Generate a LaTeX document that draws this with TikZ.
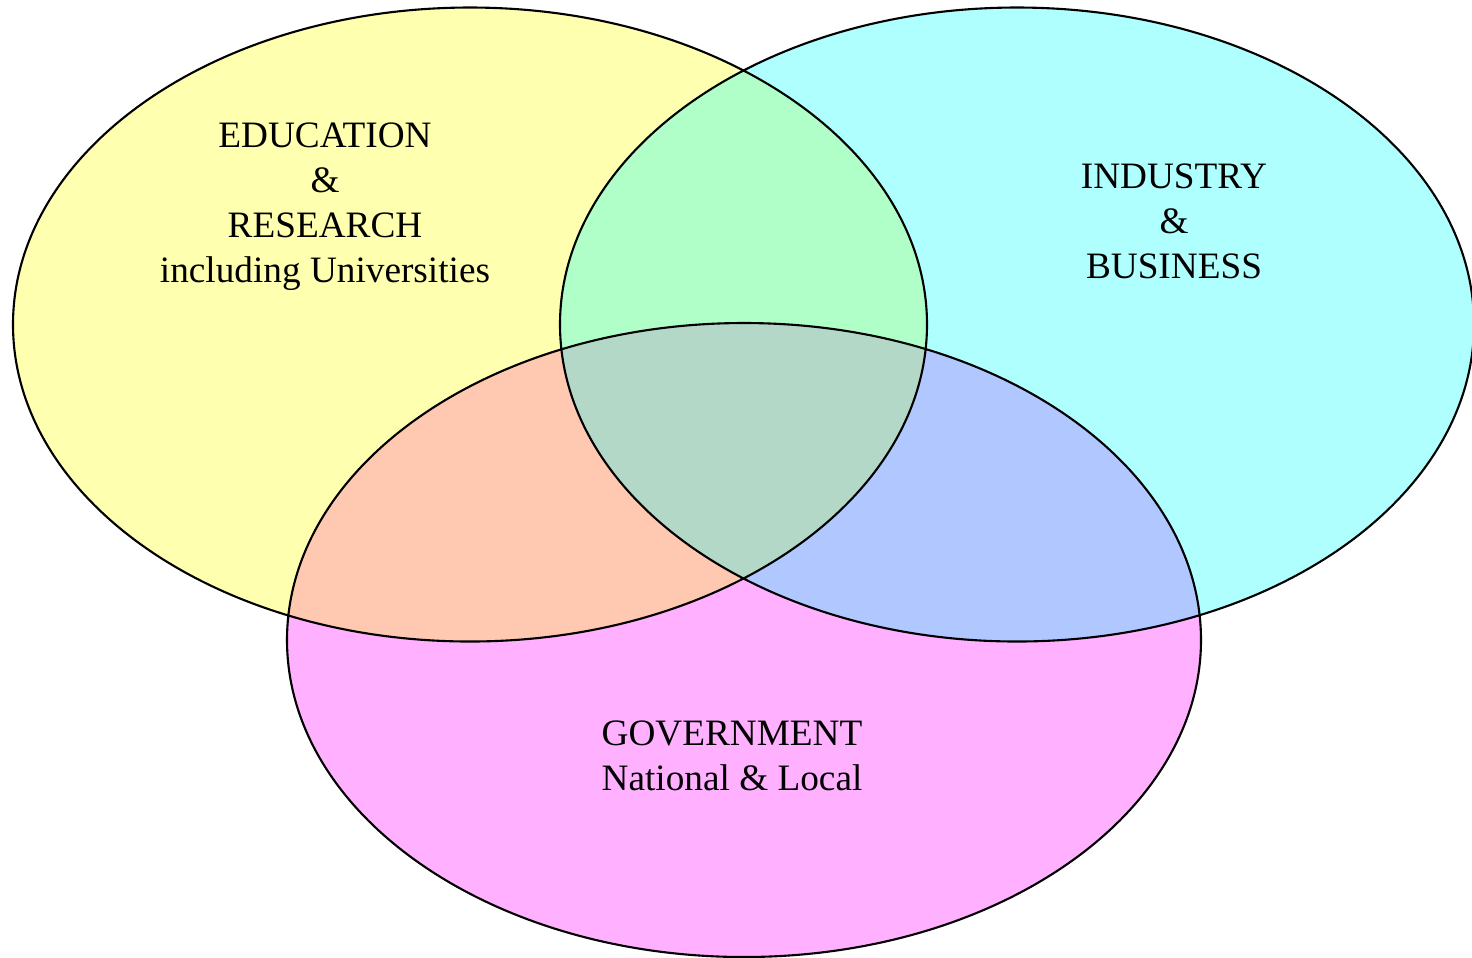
\documentclass[tikz,border=0pt]{standalone}
\usepackage{fontspec}
\setmainfont{Liberation Serif}
\definecolor{eduyellow}{HTML}{FFFFB0}
\definecolor{indcyan}{HTML}{B0FFFF}
\definecolor{govmagenta}{HTML}{FFB0FF}
\definecolor{edindgreen}{HTML}{B0FFC8}
\definecolor{edgovsalmon}{HTML}{FFC8B0}
\definecolor{indgovblue}{HTML}{B0C8FF}
\definecolor{allgrey}{HTML}{B4D8C8}
\tikzset{venntext/.style={font=\fontsize{10.6}{12.8}\selectfont, align=center, inner sep=0pt}}

\begin{document}
\begin{tikzpicture}
\useasboundingbox (0,0) rectangle (14.72,-9.57);
\def\edu{(4.70,-3.245) ellipse (4.57 and 3.17)}
\def\ind{(10.17,-3.245) ellipse (4.57 and 3.17)}
\def\gov{(7.44,-6.40) ellipse (4.57 and 3.17)}
% single sets
\fill[eduyellow] \edu;
\fill[indcyan] \ind;
\fill[govmagenta] \gov;
% pairs
\begin{scope}
 \clip \edu;
 \fill[edindgreen] \ind;
 \fill[edgovsalmon] \gov;
\end{scope}
\begin{scope}
 \clip \ind;
 \fill[indgovblue] \gov;
\end{scope}
% all three
\begin{scope}
 \clip \edu;
 \clip \ind;
 \fill[allgrey] \gov;
\end{scope}
\draw[black, line width=0.6pt] \edu \ind \gov;
\node[venntext] (edu) at (3.25,-2.07) {EDUCATION\\ \&\\ RESEARCH\\ including Universities};
\node[venntext] (ind) at (11.74,-2.21) {INDUSTRY\\ \&\\ BUSINESS};
\node[venntext] (gov) at (7.32,-7.56) {GOVERNMENT\\ National \& Local};
\end{tikzpicture}
\end{document}
